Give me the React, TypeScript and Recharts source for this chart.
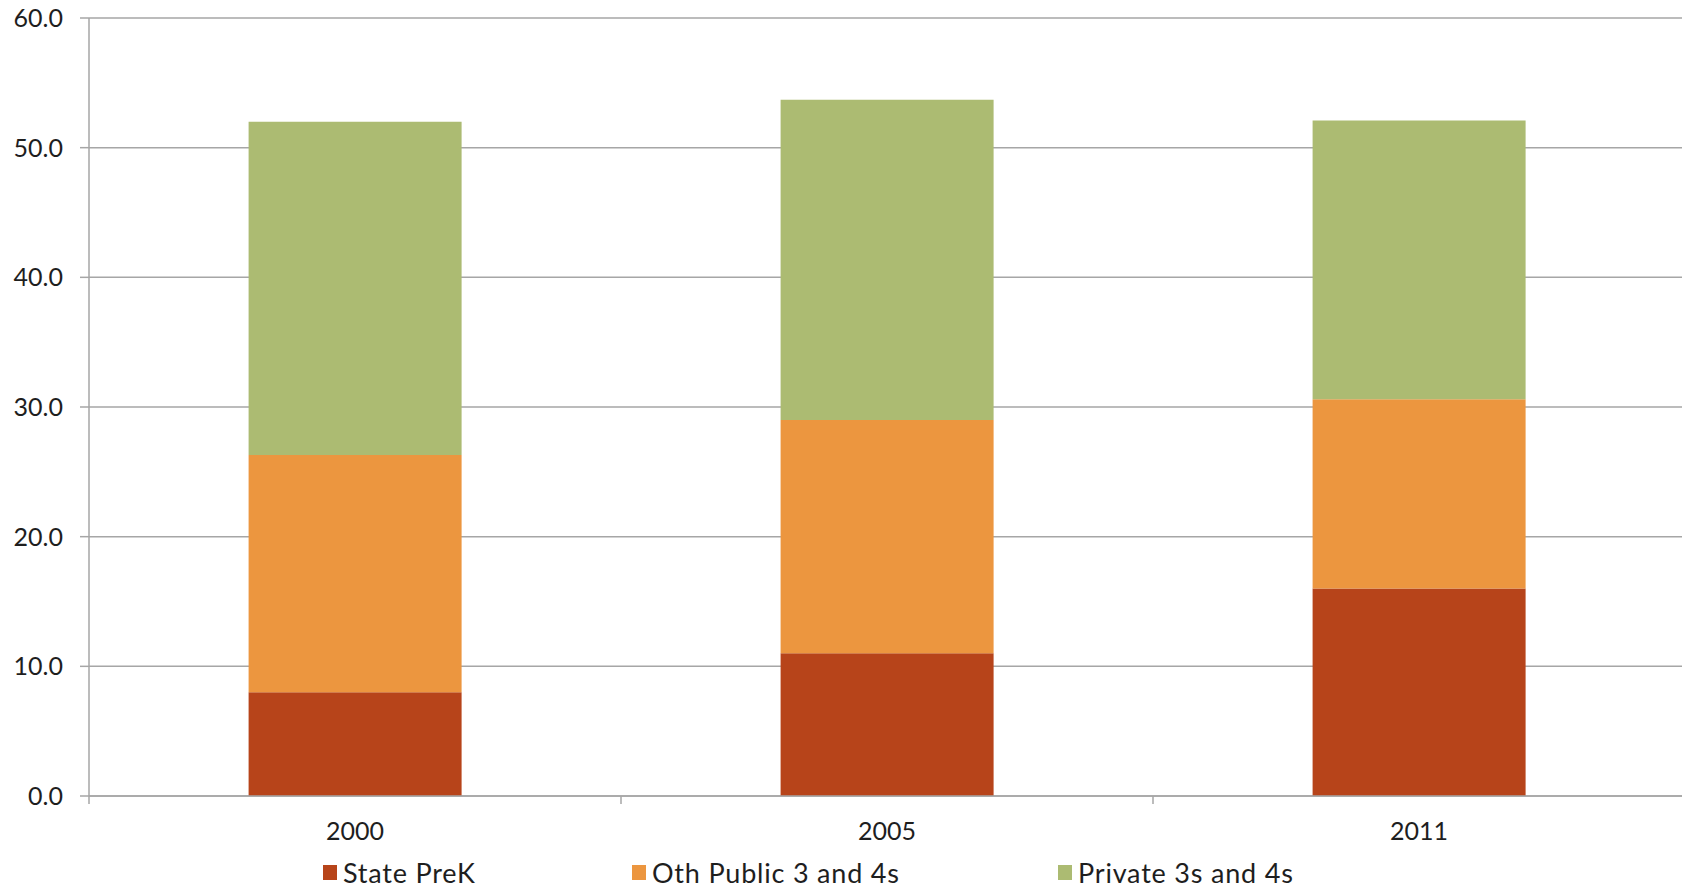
import React from 'react';
import { BarChart, Bar, XAxis, YAxis, CartesianGrid, Legend } from 'recharts';

const YEARS = ['2000', '2005', '2011'];
const STATE_PREK = [8.0, 11.0, 16.0];
const OTH_PUBLIC = [18.3, 18.0, 14.6];
const PRIVATE = [25.7, 24.7, 21.5];
const Y_TICKS = [0, 10, 20, 30, 40, 50, 60];

const SERIES = [
  { key: 'statePreK', name: 'State PreK', color: '#B7441A' },
  { key: 'othPublic', name: 'Oth Public 3 and 4s', color: '#EC963F' },
  { key: 'private', name: 'Private 3s and 4s', color: '#ACBB72' },
];

const data = YEARS.map((year, i) => ({
  year,
  statePreK: STATE_PREK[i],
  othPublic: OTH_PUBLIC[i],
  private: PRIVATE[i],
}));

const GRID = '#a6a6a6';
const TEXT = '#1e1e1e';
const FONT = 25;

// category labels sit mid-band, tick marks sit on the band edges
function XTick(props: any) {
  const { x, y, payload, width, visibleTicksCount, index } = props;
  const band = (width ?? 1596) / (visibleTicksCount || YEARS.length);
  const left = x - band / 2;
  return (
    <g>
      <line x1={left} y1={y} x2={left} y2={y + 8} stroke={GRID} strokeWidth={1.5} />
      {index === visibleTicksCount - 1 && (
        <line x1={x + band / 2} y1={y} x2={x + band / 2} y2={y + 8} stroke={GRID} strokeWidth={1.5} />
      )}
      <text x={x} y={y + 26} dy="0.71em" textAnchor="middle" fill={TEXT} fontSize={FONT}>
        {payload.value}
      </text>
    </g>
  );
}

const ITEM_WIDTHS = [309, 426, 260];

function LegendContent() {
  return (
    <div style={{ display: 'flex', paddingLeft: 323, height: 30, alignItems: 'center' }}>
      {SERIES.map((s, i) => (
        <div key={s.key} style={{ display: 'flex', alignItems: 'center', width: ITEM_WIDTHS[i] }}>
          <span style={{ width: 14, height: 15, background: s.color, marginRight: 6, flexShrink: 0 }} />
          <span style={{ fontSize: 27, letterSpacing: 0.8, color: TEXT, whiteSpace: 'nowrap' }}>{s.name}</span>
        </div>
      ))}
    </div>
  );
}

export default function App() {
  return (
    <div
      style={{
        position: 'absolute',
        left: 0,
        top: 0,
        width: 1682,
        height: 887,
        overflow: 'hidden',
        background: '#fff',
        fontFamily: 'Lato, sans-serif',
      }}
    >
      <BarChart
        width={1690}
        height={887}
        data={data}
        margin={{ top: 18, right: 5, left: 0, bottom: 0 }}
        barCategoryGap="30%"
      >
        <CartesianGrid vertical={false} stroke={GRID} strokeWidth={1.5} />
        <XAxis
          dataKey="year"
          height={61}
          axisLine={{ stroke: GRID, strokeWidth: 1.5 }}
          tickLine={false}
          tickSize={0}
          tickMargin={0}
          tick={(p: any) => <XTick {...p} />}
        />
        <YAxis
          width={89}
          domain={[0, 60]}
          ticks={Y_TICKS}
          interval={0}
          tickFormatter={(v: number) => v.toFixed(1)}
          axisLine={{ stroke: GRID, strokeWidth: 1.5 }}
          tickLine={{ stroke: GRID, strokeWidth: 1.5 }}
          tickSize={9}
          tickMargin={17}
          tick={{ fill: TEXT, fontSize: FONT }}
        />
        <Legend
          verticalAlign="bottom"
          content={() => <LegendContent />}
          wrapperStyle={{ left: 0, width: 1682, height: 30 }}
        />
        {SERIES.map((s) => (
          <Bar
            key={s.key}
            dataKey={s.key}
            name={s.name}
            stackId="a"
            fill={s.color}
            isAnimationActive={false}
          />
        ))}
      </BarChart>
    </div>
  );
}
